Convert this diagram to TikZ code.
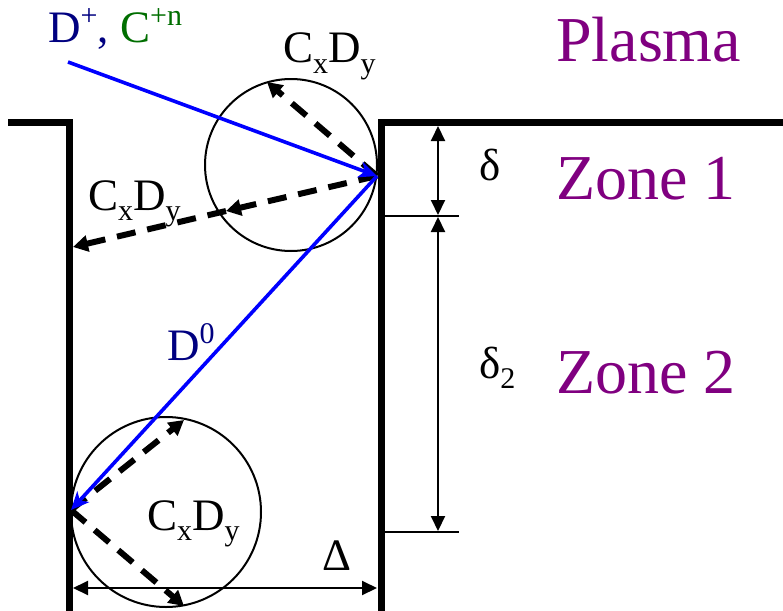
\documentclass[tikz,border=0pt]{standalone}
\usepackage{fontspec}
\setmainfont{Liberation Serif}
\usetikzlibrary{arrows.meta}
\definecolor{plum}{RGB}{128,0,128}
\definecolor{navyc}{RGB}{0,0,128}
\definecolor{dgreen}{RGB}{0,110,0}
\newcommand\lsub[1]{\raisebox{-0.23em}{\fontsize{30}{30}\selectfont #1}}
\newcommand\lsup[1]{\raisebox{0.36em}{\fontsize{30}{30}\selectfont #1}}
\begin{document}
\begin{tikzpicture}[x=1pt,y=-1pt,
  wall/.style={line width=7pt,line join=miter},
  ray/.style={blue,line width=3.6pt,-{Stealth[length=18pt,width=16pt,inset=5pt]}},
  sputter/.style={line width=6pt,dash pattern=on 19pt off 12pt,-{Triangle[length=15pt,width=16pt]}},
  dimline/.style={line width=2pt,{Triangle[length=15pt,width=14pt]}-{Triangle[length=15pt,width=14pt]}},
  tick/.style={line width=2pt},
  halo/.style={draw,circle,line width=2pt,inner sep=0pt,outer sep=0pt},
  big/.style={font=\fontsize{64}{64}\selectfont,text=plum,anchor=base west,inner sep=0pt},
  lbl/.style={font=\fontsize{45}{45}\selectfont,anchor=base west,inner sep=0pt},
]
\useasboundingbox (0,0) rectangle (783,610);

% trench walls
\draw[wall] (8,122) -- (69,122) -- (69,615);
\draw[wall] (381,615) -- (381,122) -- (790,122);

% interaction circles
\node[halo,minimum size=172pt] (c1) at (291,165) {};
\node[halo,minimum size=190pt] (c2) at (166,512) {};

% key points
\coordinate (src) at (68,62);
\coordinate (hit1) at (377,176);
\coordinate (hit2) at (71,510);
\coordinate (up1) at (267,82);
\coordinate (mid1) at (226,211);
\coordinate (wall1) at (73,247);
\coordinate (up2) at (184,420);
\coordinate (dn2) at (184,606);

% sputtered products
\draw[sputter] (hit1) -- (up1);
\draw[sputter] (hit1) -- (mid1);
\draw[sputter] (mid1) -- (wall1);
\draw[sputter] (hit2) -- (up2);
\draw[sputter] (hit2) -- (dn2);

% ion / neutral rays
\draw[ray] (src) -- (hit1);
\draw[ray] (hit1) -- (hit2);

% dimensions
\coordinate (t1a) at (384,216);
\coordinate (t1b) at (459,216);
\coordinate (t2a) at (384,532);
\coordinate (t2b) at (459,532);
\draw[tick] (t1a) -- (t1b);
\draw[tick] (t2a) -- (t2b);
\coordinate (dtop) at (438,126);
\coordinate (dmid1) at (438,215);
\coordinate (dmid2) at (438,217);
\coordinate (dbot) at (438,531);
\draw[dimline] (dtop) -- (dmid1);
\draw[dimline] (dmid2) -- (dbot);
\coordinate (wl) at (73,588);
\coordinate (wr) at (377,588);
\draw[dimline] (wl) -- (wr);

% labels
\node[lbl] (ions) at (48,42) {\textcolor{navyc}{D\lsup{+},} \textcolor{dgreen}{C\lsup{+n}}};
\node[lbl] (cd1) at (283,63) {C\lsub{x}D\lsub{y}};
\node[lbl] (cd2) at (88,210) {C\lsub{x}D\lsub{y}};
\node[lbl] (cd3) at (147,530) {C\lsub{x}D\lsub{y}};
\node[lbl,text=navyc] (d0) at (167,360) {D\lsup{0}};
\node[lbl] (wd) at (322,570) {Δ};
\node[lbl] (del1) at (479,180) {δ};
\node[lbl] (del2) at (479,378) {δ\lsub{2}};
\node[big] (pl) at (556,61) {Plasma};
\node[big] (z1) at (556,199) {Zone 1};
\node[big] (z2) at (556,393) {Zone 2};
\end{tikzpicture}
\end{document}
